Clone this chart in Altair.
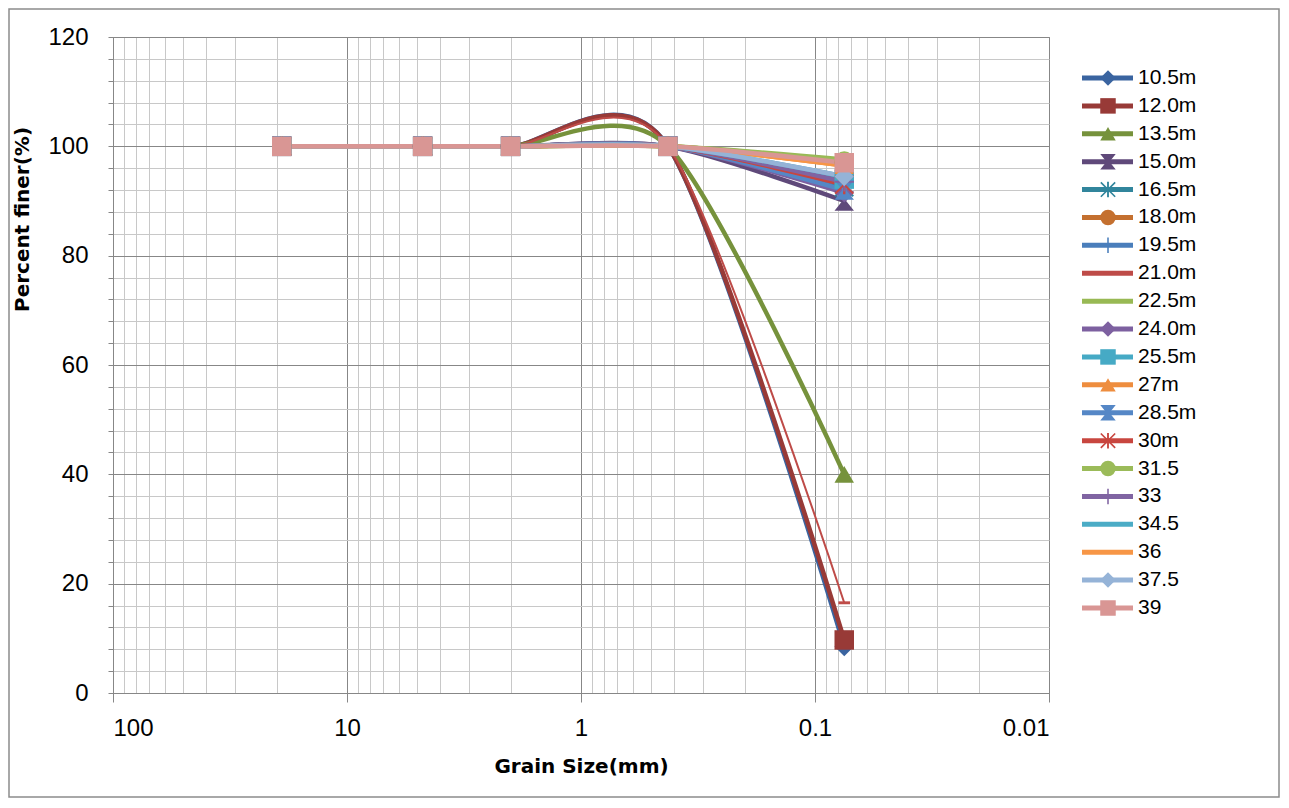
import altair as alt
import pandas as pd

# ---------------- data ----------------
series = ["10.5m", "12.0m", "13.5m", "15.0m", "16.5m", "18.0m", "19.5m", "21.0m",
          "22.5m", "24.0m", "25.5m", "27m", "28.5m", "30m", "31.5", "33", "34.5",
          "36", "37.5", "39"]
grain_sizes = [19.0, 4.75, 2.0, 0.425, 0.075]  # sieve openings (mm)

# percent finer at each sieve, one value per series
passing_19mm = [100] * 20
passing_4_75mm = [100] * 20
passing_2mm = [100] * 20
passing_0_425mm = [100] * 20
passing_0_075mm = [8.5, 9.7, 40, 90, 92.5, 97, 93, 16.5, 97.6, 91.5,
                   94, 96.5, 92, 93, 97.3, 93.5, 94.5, 96.5, 94.5, 97]

x_tick_values = [round(m * 10.0 ** e, 6) for e in range(-2, 2) for m in range(1, 10)] + [100.0]
y_tick_values = list(range(0, 121, 4))

# ---------------- styles ----------------
colors = ["#3A64A0", "#983A37", "#76923C", "#5F497A", "#31859C", "#C4702F",
          "#4A7EBB", "#BE4B48", "#98B954", "#7D60A0", "#46AAC5", "#EE8D3E",
          "#5587C6", "#C8463F", "#9BBB59", "#8064A2", "#4BACC6", "#F79646",
          "#95B3D7", "#D99694"]

HOURGLASS = "M-1,-1L1,-1L0.2,0L1,1L-1,1L-0.2,0Z"
ASTERISK = ("M-0.12,-1L0.12,-1L0.12,1L-0.12,1Z"
            "M-1,-0.85L-0.85,-1L1,0.85L0.85,1Z"
            "M0.85,-1L1,-0.85L-0.85,1L-1,0.85Z")
PLUS = ("M-0.1,-1L0.1,-1L0.1,-0.1L1,-0.1L1,0.1L0.1,0.1L0.1,1L-0.1,1"
        "L-0.1,0.1L-1,0.1L-1,-0.1L-0.1,-0.1Z")
DASH = "M-0.6,-0.15L0.6,-0.15L0.6,0.15L-0.6,0.15Z"
NONE = "M0,0Z"
shapes = ["diamond", "square", "triangle-up", HOURGLASS, ASTERISK, "circle",
          PLUS, DASH, NONE, "diamond", "square", "triangle-up", HOURGLASS,
          ASTERISK, "circle", PLUS, NONE, NONE, "diamond", "square"]

# ---------------- table ----------------
sieves = [passing_19mm, passing_4_75mm, passing_2mm, passing_0_425mm, passing_0_075mm]
rows = []
for i, s in enumerate(series):
    for j, g in enumerate(grain_sizes):
        rows.append({"series": s, "order": i, "size": g, "pct": sieves[j][i]})
df = pd.DataFrame(rows)
legend_df = pd.DataFrame({"series": series, "order": list(range(len(series)))})

color_scale = alt.Scale(domain=series, range=colors)
shape_scale = alt.Scale(domain=series, range=shapes)
x_scale = alt.Scale(type="log", domain=[0.01, 100], reverse=True, nice=False)
y_scale = alt.Scale(domain=[0, 120], nice=False)

decade = "abs(log(datum.value)/LN10 - round(log(datum.value)/LN10)) < 0.001"
major_y = "(datum.value % 20) == 0"

x_axis = alt.Axis(
    values=x_tick_values,
    labelExpr=f"{decade} ? (datum.value >= 1 ? format(datum.value, 'd') : format(datum.value, '~g')) : ''",
    labelOverlap=False,
    gridColor={"condition": {"test": decade, "value": "#878787"}, "value": "#c8c8c8"},
    tickOpacity={"condition": {"test": decade, "value": 1}, "value": 0},
    tickSize=9,
    tickColor="#878787",
    domainColor="#878787",
    labelPadding=14,
    labelFontSize=24,
    labelFont="Liberation Sans",
    labelColor="#000000",
    title="Grain Size(mm)",
    titleFont="DejaVu Sans",
    titleFontSize=20,
    titleFontWeight="bold",
    titleColor="#000000",
    titlePadding=16,
)

y_axis = alt.Axis(
    values=y_tick_values,
    labelExpr=f"{major_y} ? datum.label : ''",
    labelOverlap=False,
    gridColor={"condition": {"test": major_y, "value": "#878787"}, "value": "#c8c8c8"},
    tickSize=5,
    tickColor="#878787",
    domainColor="#878787",
    labelPadding=20,
    labelFontSize=24,
    labelFont="Liberation Sans",
    labelColor="#000000",
    title="Percent finer(%)",
    titleFont="DejaVu Sans",
    titleFontSize=20,
    titleFontWeight="bold",
    titleColor="#000000",
    titleX=-91,
    titleY=182,
    titleAngle=270,
    titleAlign="center",
    titleBaseline="middle",
)

x_enc = alt.X("size:Q", scale=x_scale, axis=x_axis)
y_enc = alt.Y("pct:Q", scale=y_scale, axis=y_axis)

lines = alt.Chart(df).mark_line(interpolate="cardinal", tension=0.15).encode(
    x=x_enc,
    y=y_enc,
    color=alt.Color("series:N", scale=color_scale, legend=None),
    detail="series:N",
    order="size:Q",
    strokeWidth=alt.condition(alt.datum.series == "21.0m", alt.value(2), alt.value(4.5)),
)

points = alt.Chart(df).mark_point(filled=True, opacity=1).encode(
    x=x_enc,
    y=y_enc,
    color=alt.Color("series:N", scale=color_scale, legend=None),
    shape=alt.Shape("series:N", scale=shape_scale, legend=None),
    size=alt.value(380),
    order="order:Q",
)

data_layer = alt.layer(lines, points)

leg_y = alt.Y("series:N", sort=series, axis=None,
              scale=alt.Scale(type="point", range=[41, 571], padding=0))

leg_rule = alt.Chart(legend_df).mark_rule(strokeWidth=5).encode(
    x=alt.value(969), x2=alt.value(1020), y=leg_y,
    color=alt.Color("series:N", scale=color_scale, legend=None),
)
leg_pts = alt.Chart(legend_df).mark_point(filled=True, opacity=1).encode(
    x=alt.value(995), y=leg_y,
    color=alt.Color("series:N", scale=color_scale, legend=None),
    shape=alt.Shape("series:N", scale=shape_scale, legend=None),
    size=alt.value(240),
)
leg_text = alt.Chart(legend_df).mark_text(
    align="left", baseline="middle", fontSize=21, font="Liberation Sans", color="#000000"
).encode(
    x=alt.value(1025), y=leg_y, text="series:N",
)
legend_layer = alt.layer(leg_rule, leg_pts, leg_text)

# outer chart-area frame (decoration)
frame = alt.Chart(pd.DataFrame({"k": [0]})).mark_rect(
    fill=None, fillOpacity=0, stroke="#8c8c8c", strokeWidth=1.5
).encode(
    x=alt.value(-104), x2=alt.value(1166), y=alt.value(-28), y2=alt.value(760),
)

chart = alt.layer(frame, data_layer, legend_layer).resolve_scale(y="independent").properties(
    width=936,
    height=656,
    padding={"left": 0, "top": 0, "right": 0, "bottom": 0},
    background="#ffffff",
).configure_view(stroke="#878787")

chart.save("out.html", embed_options={"renderer": "svg", "actions": False})
